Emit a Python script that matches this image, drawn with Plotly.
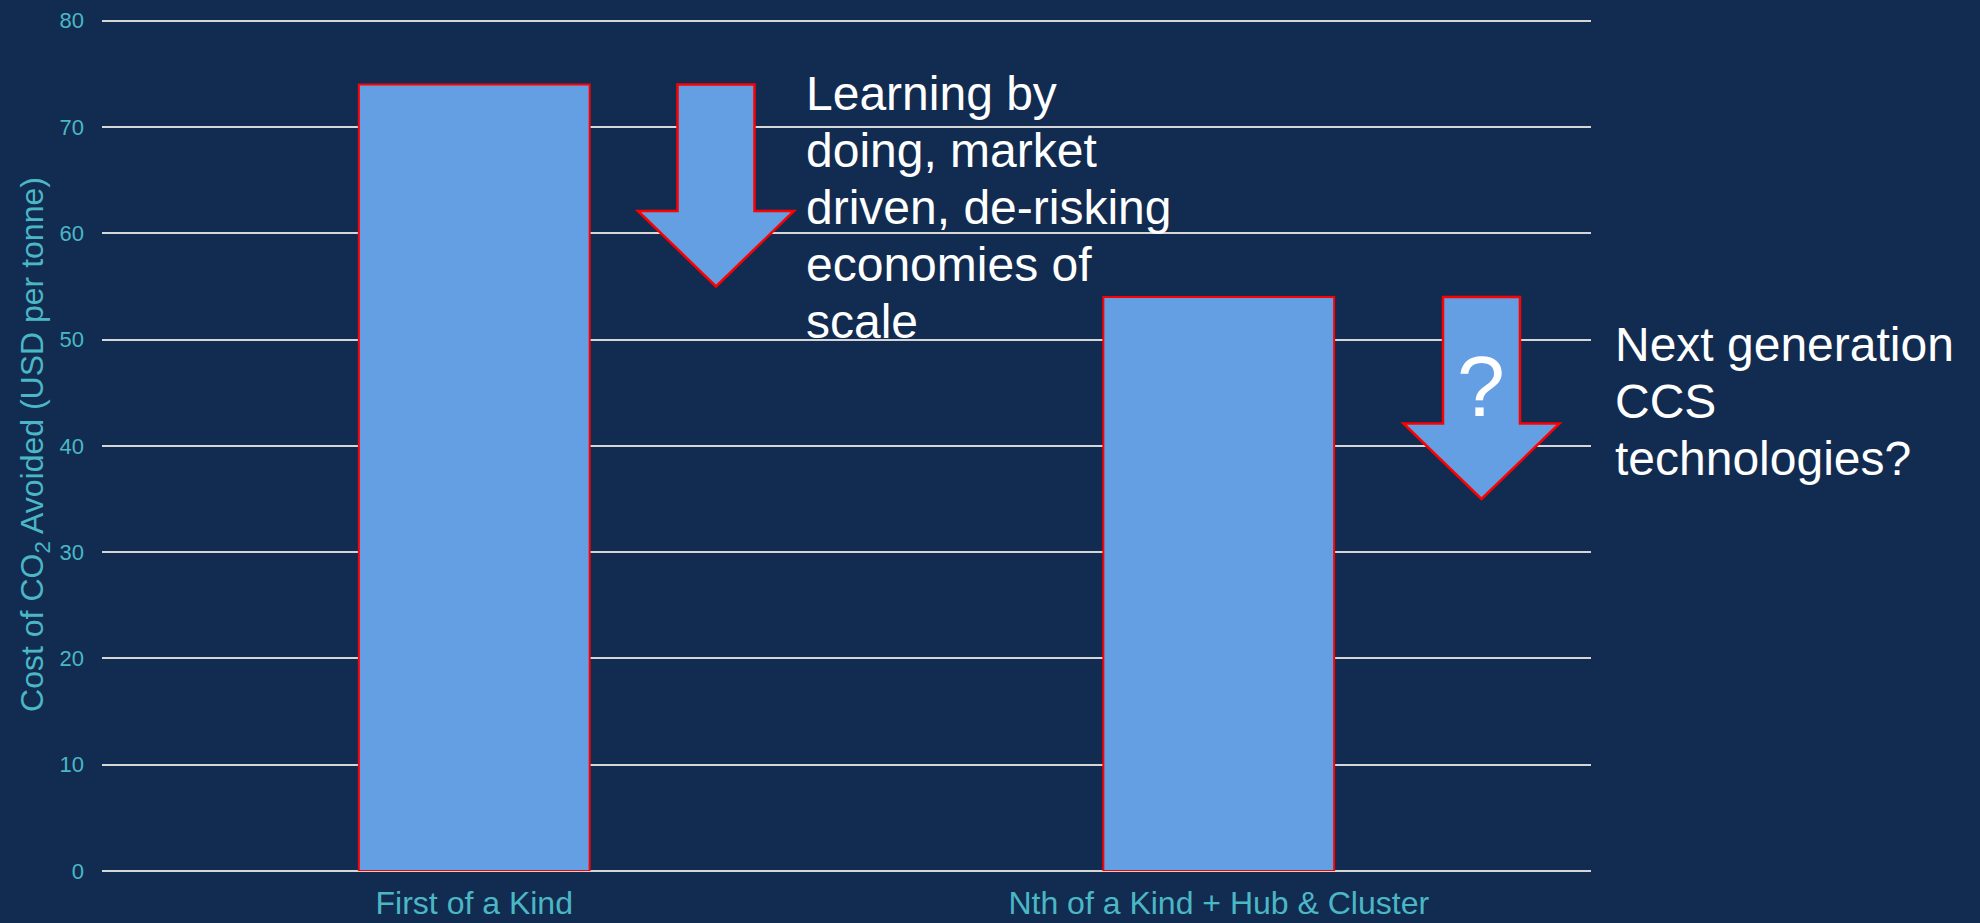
import plotly.graph_objects as go

# Cost of CO2 avoided for the two deployment stages
categories = ["First of a Kind", "Nth of a Kind + Hub & Cluster"]
cost_usd_per_tonne = [74, 54]

# Where each arrow's tip points to (projected cost after the reduction)
arrow_targets = [55, 35]

note_learning = ["Learning by", "doing, market", "driven, de-risking", "economies of", "scale"]
note_next_gen = ["Next generation", "CCS", "technologies?"]

BG = "#122C51"
BAR = "#639FE2"
EDGE = "#FF0000"
TEAL = "#4BB7C5"
GRID = "#D6D6D6"
FONT = "Liberation Sans, Arial, sans-serif"

Y_TOP = 80.25  # a little headroom so the 80 gridline is not clipped
PX_PER_UNIT = 10.629

fig = go.Figure()
fig.add_trace(go.Bar(
    x=categories,
    y=cost_usd_per_tonne,
    width=0.31,
    marker=dict(color=BAR, line=dict(color=EDGE, width=2)),
    hoverinfo="skip",
))


def down_arrow(xc, top, tip, shaft_half=0.0517, wing_half=0.1048, head=7.1):
    """Block arrow pointing down, from `top` to `tip` (y units), centred at xc."""
    yh = tip + head
    pts = [
        (xc - shaft_half, top), (xc + shaft_half, top), (xc + shaft_half, yh),
        (xc + wing_half, yh), (xc, tip), (xc - wing_half, yh), (xc - shaft_half, yh),
    ]
    return "M " + " L ".join(f"{px},{py}" for px, py in pts) + " Z"


arrow_x = [0.3247, 1.3529]
for xc, top, tip in zip(arrow_x, cost_usd_per_tonne, arrow_targets):
    fig.add_shape(
        type="path", xref="x", yref="y",
        path=down_arrow(xc, top, tip),
        fillcolor=BAR, line=dict(color=EDGE, width=2.5), layer="above",
    )

# Multi-line notes, one annotation per line for a tighter line spacing
line_step = 57 / PX_PER_UNIT  # ~57 px between baselines, in y units
for i, line in enumerate(note_learning):
    fig.add_annotation(
        x=0.4435, y=73.16 - i * line_step, xref="x", yref="y",
        text=line, showarrow=False, xanchor="left", yanchor="middle",
        font=dict(family=FONT, size=48, color="white"),
    )
for i, line in enumerate(note_next_gen):
    fig.add_annotation(
        x=1.0148, y=49.54 - i * line_step, xref="paper", yref="y",
        text=line, showarrow=False, xanchor="left", yanchor="middle",
        font=dict(family=FONT, size=48, color="white"),
    )
fig.add_annotation(
    x=arrow_x[1], y=45.6, xref="x", yref="y",
    text="?", showarrow=False, xanchor="center", yanchor="middle",
    font=dict(family=FONT, size=86, color="white"),
)

plot_h = Y_TOP * PX_PER_UNIT
fig.update_layout(
    width=1980, height=923,
    margin=dict(l=102, r=389, t=923 - 52 - plot_h, b=52, autoexpand=False),
    paper_bgcolor=BG, plot_bgcolor=BG,
    showlegend=False,
    font=dict(family=FONT, color=TEAL),
)
fig.update_xaxes(
    type="category", range=[-0.5, 1.5],
    showgrid=False, zeroline=False, showline=False, ticks="",
    tickfont=dict(family=FONT, size=32, color=TEAL),
    ticklabelstandoff=10,
)
fig.update_yaxes(
    range=[0, Y_TOP], dtick=10, tick0=0,
    showgrid=True, gridcolor=GRID, gridwidth=1.6,
    zeroline=True, zerolinecolor=GRID, zerolinewidth=2,
    showline=False, ticks="",
    tickfont=dict(family=FONT, size=22, color=TEAL),
    ticklabelstandoff=17,
    title=dict(
        text="Cost of CO<sub>2</sub> Avoided (USD per tonne)",
        font=dict(family=FONT, size=32, color=TEAL),
        standoff=6,
    ),
)

fig.write_html("out.html")
